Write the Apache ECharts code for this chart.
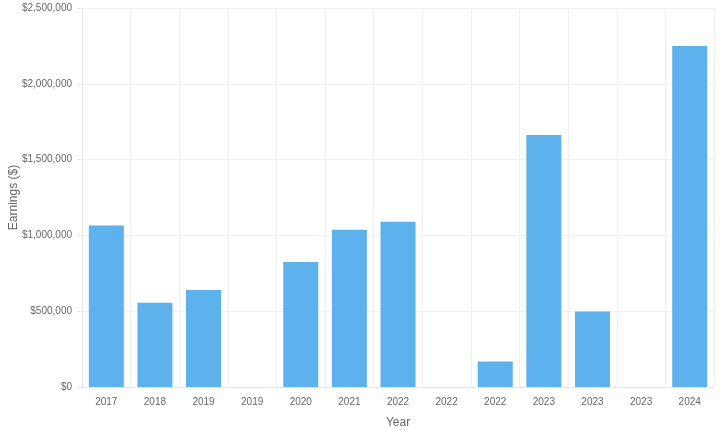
<!DOCTYPE html>
<html>
<head>
<meta charset="utf-8">
<script src="https://cdn.jsdelivr.net/npm/echarts@6/dist/echarts.min.js"></script>
<style>html,body{margin:0;padding:0;background:#fff}#c{width:720px;height:431px}</style>
</head>
<body>
<div id="c"></div>
<script>
const categories = ['2017','2018','2019','2019','2020','2021','2022','2022','2022','2023','2023','2023','2024'];
const earnings = [1065000, 555000, 640000, 0, 825000, 1038000, 1090000, 0, 168000, 1662000, 498000, 0, 2250000];

const chart = echarts.init(document.getElementById('c'), null, {renderer:'canvas'});
const fmt = v => '$' + v.toLocaleString('en-US');
chart.setOption({
  animation: false,
  grid: {left: 82, right: 6, top: 8, bottom: 44, containLabel: false, outerBoundsMode: 'none'},
  xAxis: {
    type: 'category',
    data: categories,
    name: 'Year',
    nameLocation: 'middle',
    nameGap: 30,
    nameMoveOverlap: false,
    nameTextStyle: {color: '#666', fontSize: 12, fontFamily: 'Liberation Sans, Arial, sans-serif'},
    axisLine: {lineStyle: {color: '#e6e6e6'}},
    axisTick: {show: false},
    axisLabel: {color: '#666', fontSize: 10, margin: 10, fontFamily: 'Liberation Sans, Arial, sans-serif'},
    splitLine: {show: true, lineStyle: {color: '#f0f0f0'}}
  },
  yAxis: {
    type: 'value',
    min: 0, max: 2500000, interval: 500000,
    name: 'Earnings ($)',
    nameLocation: 'middle',
    nameGap: 62,
    nameMoveOverlap: false,
    nameTextStyle: {color: '#666', fontSize: 12, fontFamily: 'Liberation Sans, Arial, sans-serif'},
    axisLine: {show: true, lineStyle: {color: '#e6e6e6'}},
    axisTick: {show: true, length: 5, lineStyle: {color: '#e6e6e6'}},
    axisLabel: {color: '#666', fontSize: 10, margin: 10, formatter: fmt, fontFamily: 'Liberation Sans, Arial, sans-serif'},
    splitLine: {show: true, lineStyle: {color: '#f0f0f0'}}
  },
  series: [{
    type: 'bar',
    data: earnings,
    barWidth: '72%',
    itemStyle: {color: '#5db1ec'}
  }]
});
</script>
</body>
</html>
